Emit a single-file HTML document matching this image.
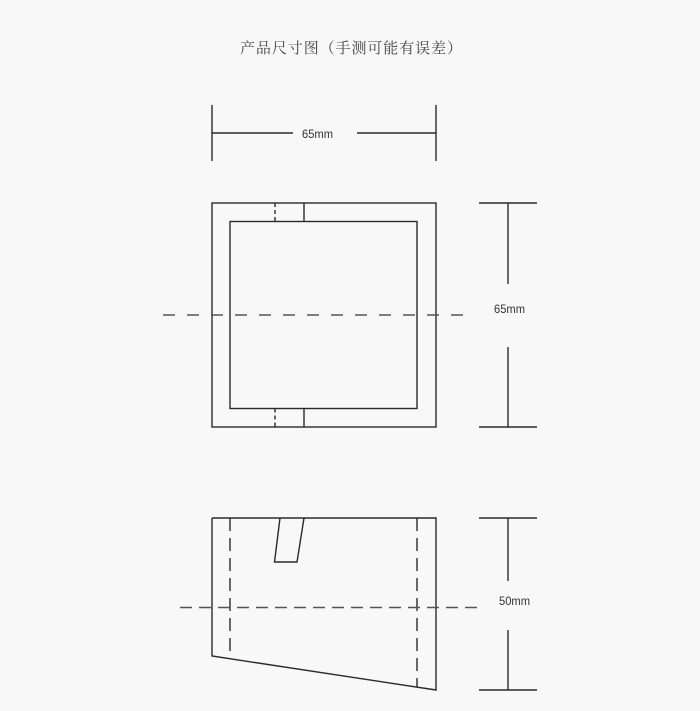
<!DOCTYPE html>
<html><head><meta charset="utf-8"><style>
html,body{margin:0;padding:0;background:#f8f8f8;}
svg{display:block}
</style></head><body>
<svg width="700" height="711" viewBox="0 0 700 711" xmlns="http://www.w3.org/2000/svg">
<rect width="700" height="711" fill="#f8f8f8"/>
<text x="240" y="53" font-family="'Liberation Serif','Noto Serif CJK SC',serif" font-size="15" fill="#444" textLength="222" lengthAdjust="spacing">产品尺寸图（手测可能有误差）</text>
<g stroke="#2a2a2a" stroke-width="1.4" fill="none">
<line x1="212" y1="105" x2="212" y2="161"/>
<line x1="436" y1="105" x2="436" y2="161"/>
<line x1="212" y1="133" x2="293" y2="133"/>
<line x1="357" y1="133" x2="436" y2="133"/>
<rect x="212" y="203" width="224" height="224"/>
<rect x="230" y="221.5" width="187" height="187"/>
<line x1="304" y1="203" x2="304" y2="221.5"/>
<line x1="304" y1="408.5" x2="304" y2="427"/>
<line x1="275" y1="203" x2="275" y2="221.5" stroke-dasharray="4,3"/>
<line x1="275" y1="408.5" x2="275" y2="427" stroke-dasharray="4,3"/>
<line x1="163" y1="315" x2="463" y2="315" stroke-dasharray="12,12" stroke="#555"/>
<line x1="479" y1="203" x2="537" y2="203"/>
<line x1="479" y1="427" x2="537" y2="427"/>
<line x1="508" y1="203" x2="508" y2="284"/>
<line x1="508" y1="347" x2="508" y2="427"/>
<polyline points="212,518 436,518 436,690 212,656 212,518"/>
<polyline points="280,518 274.5,562 297,562 304,518"/>
<line x1="230" y1="518" x2="230" y2="658" stroke-dasharray="13,7"/>
<line x1="417" y1="518" x2="417" y2="687" stroke-dasharray="13,7"/>
<line x1="180" y1="607.5" x2="480" y2="607.5" stroke-dasharray="12,7" stroke="#555"/>
<line x1="479" y1="518" x2="537" y2="518"/>
<line x1="479" y1="690" x2="537" y2="690"/>
<line x1="508" y1="518" x2="508" y2="581"/>
<line x1="508" y1="630" x2="508" y2="690"/>
</g>
<g font-family="'Liberation Sans',sans-serif" font-size="12" fill="#333">
<text x="302" y="138" textLength="31" lengthAdjust="spacingAndGlyphs">65mm</text>
<text x="494" y="313" textLength="31" lengthAdjust="spacingAndGlyphs">65mm</text>
<text x="499" y="605" textLength="31" lengthAdjust="spacingAndGlyphs">50mm</text>
</g>
</svg>
</body></html>
